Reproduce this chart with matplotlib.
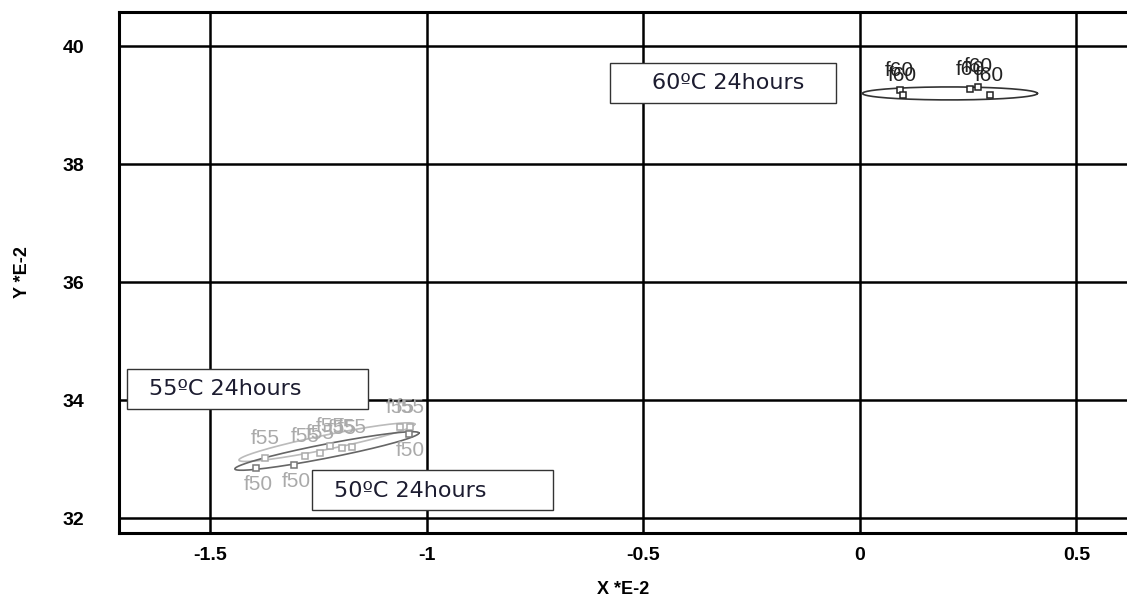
import numpy as np
import matplotlib
matplotlib.use("Agg")
import matplotlib.pyplot as plt

# canonical scores (x and y are in units of 1E-2)
f50_x = [-1.395, -1.307, -1.042]
f50_y = [32.85, 32.90, 33.42]

f55_x = [-1.374, -1.282, -1.247, -1.224, -1.196, -1.173, -1.062, -1.039]
f55_y = [33.02, 33.05, 33.10, 33.22, 33.19, 33.20, 33.54, 33.54]

f60_x = [0.092, 0.099, 0.254, 0.273, 0.300]
f60_y = [39.25, 39.17, 39.27, 39.31, 39.17]

x_ticks = [-1.5, -1.0, -0.5, 0.0, 0.5]
x_tick_labels = ["-1.5", "-1", "-0.5", "0", "0.5"]
y_ticks = [32, 34, 36, 38, 40]

# group label boxes: text, (x0, y0, x1, y1) of the box, text anchor
box_texts = ["60ºC 24hours", "55ºC 24hours", "50ºC 24hours"]
box_extents = [(-0.577, 39.03, -0.055, 39.71),
               (-1.693, 33.85, -1.136, 34.53),
               (-1.266, 32.14, -0.709, 32.81)]
box_anchors = [(-0.480, 39.37), (-1.642, 34.19), (-1.215, 32.46)]


def draw_ellipse(ax, center, major, minor, color, lw=1.2):
    t = np.linspace(0, 2 * np.pi, 200)
    cx, cy = center
    xs = cx + major[0] * np.cos(t) + minor[0] * np.sin(t)
    ys = cy + major[1] * np.cos(t) + minor[1] * np.sin(t)
    ax.plot(xs, ys, color=color, lw=lw, zorder=3)


fig = plt.figure(figsize=(11.27, 6.03), dpi=100)
ax = fig.add_axes([0.1056, 0.1161, 0.8944, 0.8640])
ax.set_xlim(-1.711, 0.617)
ax.set_ylim(31.75, 40.58)

ax.set_xticks(x_ticks)
ax.set_xticklabels(x_tick_labels)
ax.set_yticks(y_ticks)
ax.grid(True, color="black", lw=1.8)
ax.set_axisbelow(True)
ax.tick_params(length=0)
ax.tick_params(axis="x", pad=10)
ax.tick_params(axis="y", pad=25)
for lab in ax.get_xticklabels() + ax.get_yticklabels():
    lab.set_fontfamily("Liberation Sans")
    lab.set_fontweight("bold")
    lab.set_fontsize(14)
for side in ["left", "bottom", "top"]:
    ax.spines[side].set_linewidth(2.2)
ax.spines["right"].set_visible(False)

ax.set_xlabel("X *E-2", fontfamily="Liberation Sans", fontweight="bold",
              fontsize=13, labelpad=12)
ax.set_ylabel("Y *E-2", fontfamily="Liberation Sans", fontweight="bold",
              fontsize=13, labelpad=23)

# ellipses around each group
draw_ellipse(ax, (0.208, 39.20), (0.202, 0.0), (0.0, 0.11), "#333333")
draw_ellipse(ax, (-1.231, 33.29), (0.203, 0.305), (0.003, -0.12), "#bbbbbb")
draw_ellipse(ax, (-1.231, 33.14), (0.2125, 0.305), (0.003, -0.117), "#666666")

# points and their labels
groups = [
    (f55_x, f55_y, "f55", "#aaaaaa", "#aaaaaa", (0, 20)),
    (f50_x, f50_y, "f50", "#777777", "#aaaaaa", (2, -16)),
    (f60_x, f60_y, "f60", "#222222", "#222222", (0, 20)),
]
for xs, ys, name, mcol, tcol, off in groups:
    ax.plot(xs, ys, "s", ms=5, mfc="white", mec=mcol, mew=1.1, zorder=4)
    for x, y in zip(xs, ys):
        ax.annotate(name, (x, y), xytext=off, textcoords="offset pixels",
                    ha="center", va="center", fontsize=15,
                    fontfamily="Liberation Sans", color=tcol, zorder=5)

# annotation boxes
for text, ext, anc in zip(box_texts, box_extents, box_anchors):
    x0, y0, x1, y1 = ext
    ax.add_patch(plt.Rectangle((x0, y0), x1 - x0, y1 - y0, fc="white",
                               ec="#333333", lw=1, zorder=6))
    ax.text(anc[0], anc[1], text, ha="left", va="center", fontsize=16,
            fontfamily="DejaVu Sans", color="#1c1c30", zorder=7)

plt.savefig("out.png", dpi=100)
plt.close()
